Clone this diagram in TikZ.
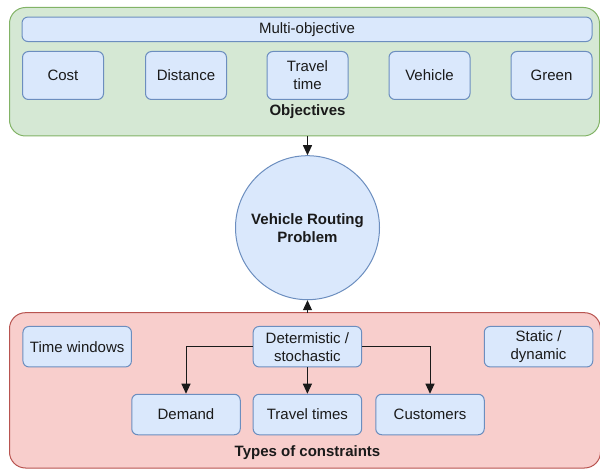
\documentclass[tikz,border=0pt]{standalone}
\usepackage{fontspec}
\setmainfont{Liberation Sans}
\usetikzlibrary{arrows.meta,calc}
\definecolor{grpfill}{HTML}{D5E8D4}
\definecolor{grpline}{HTML}{82B366}
\definecolor{redfill}{HTML}{F8CECC}
\definecolor{redline}{HTML}{B85450}
\definecolor{boxfill}{HTML}{DAE8FC}
\definecolor{boxline}{HTML}{6C8EBF}
\definecolor{ink}{HTML}{1A1A1A}
\begin{document}
\begin{tikzpicture}[x=1pt,y=-1pt,
  txt/.style={font=\fontsize{15}{18}\selectfont, text=ink, align=center, inner sep=0pt},
  panel/.style={rounded corners=16pt, line width=1pt},
  item/.style={txt, draw=boxline, fill=boxfill, rounded corners=6pt, line width=1pt},
  obj/.style={item, minimum width=81pt, minimum height=48pt},
  con/.style={item, minimum width=108.5pt, minimum height=40.5pt},
  link/.style={draw=ink, line width=1pt, -{Triangle[length=10pt,width=9pt]}}
]
\useasboundingbox (0,0) rectangle (600,470);

% objectives panel
\path[panel, fill=grpfill, draw=grpline] (9.5,7.5) rectangle (599.5,136);
\coordinate (objbottom) at (307.5,136);
\node[item, minimum width=570pt, minimum height=24.5pt] (multi) at (307,29.3) {Multi-objective};
\node[obj] (cost) at (63,75.5) {Cost};
\node[obj] (dist) at (186,75.5) {Distance};
\node[obj] (ttime) at (307.5,75.5) {Travel\\time};
\node[obj] (veh) at (429.5,75.5) {Vehicle};
\node[obj] (green) at (551.5,75.5) {Green};
\node[txt, font=\fontsize{15}{18}\selectfont\bfseries] (objlabel) at (307.5,111.5) {Objectives};

% constraints panel
\path[panel, fill=redfill, draw=redline] (9.5,312.7) rectangle (600.5,468);
\coordinate (contop) at (307.5,312.7);
\node[con] (tw) at (77.2,346.7) {Time windows};
\node[con] (det) at (307.4,346.7) {Determistic /\\stochastic};
\node[con] (stat) at (538.5,346.7) {Static /\\dynamic};
\node[con] (dem) at (186,414.5) {Demand};
\node[con] (tts) at (307.4,414.5) {Travel times};
\node[con] (cust) at (430,414.5) {Customers};
\node[txt, font=\fontsize{15}{18}\selectfont\bfseries] (conlabel) at (307.5,452.5) {Types of constraints};

% central problem
\node[txt, circle, draw=boxline, fill=boxfill, line width=1pt, minimum size=144pt,
      font=\fontsize{15}{18}\selectfont\bfseries] (vrp) at (307.5,227.7) {Vehicle Routing\\Problem};

% connectors
\draw[link] (objbottom) -- (vrp.north);
\draw[link] (contop) -- (vrp.south);
\draw[link] (det.west) -| (dem.north);
\draw[link] (det.south) -- (tts.north);
\draw[link] (det.east) -| (cust.north);
\end{tikzpicture}
\end{document}
